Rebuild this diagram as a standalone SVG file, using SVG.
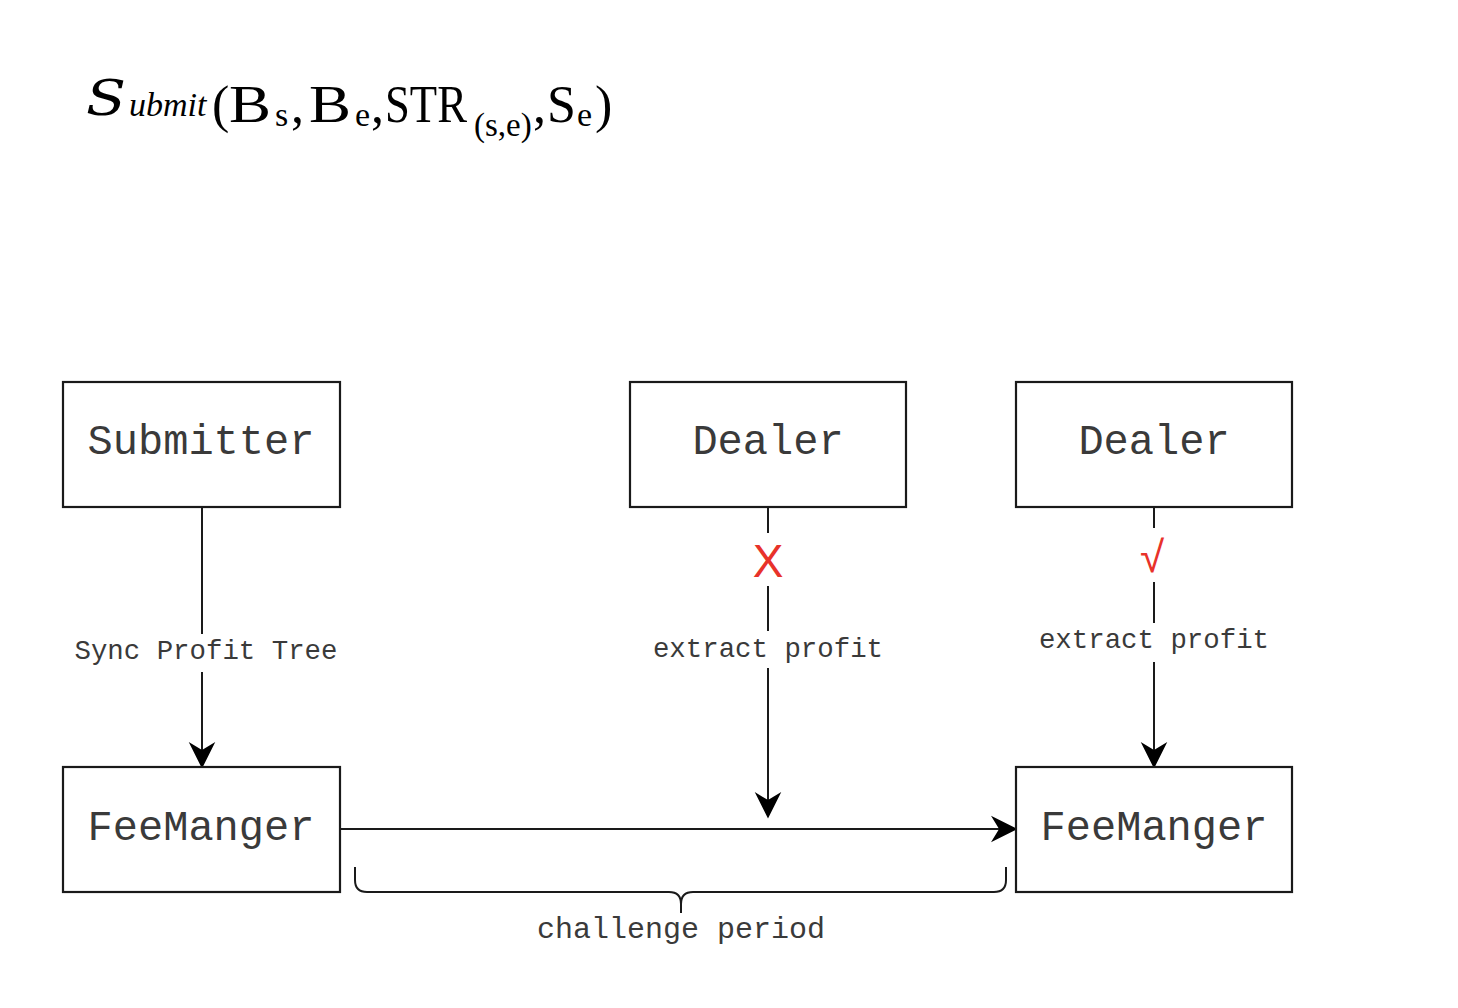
<svg xmlns="http://www.w3.org/2000/svg" width="1458" height="1008" viewBox="0 0 1458 1008">
<style>
.box{fill:#fff;stroke:#1a1a1a;stroke-width:2.2}
.lbl{font-family:"Liberation Mono","Courier New",monospace;fill:#3a3a3a;text-anchor:middle}
.big{font-size:42px}
.small{font-size:27.4px}
.ln{stroke:#1a1a1a;stroke-width:2;fill:none}
.red{fill:#e8322a;font-family:"Liberation Sans",Arial,sans-serif;text-anchor:middle}
.math{font-family:"Liberation Serif","Times New Roman",serif;fill:#000}
</style>
<defs>
<marker id="arr" markerUnits="userSpaceOnUse" markerWidth="30" markerHeight="30" viewBox="-24 -13 26 26" refX="-10" refY="0" orient="auto">
<path d="M0,0 L-23,-11.5 L-16,0 L-23,11.5 Z" fill="#000"/>
</marker>
</defs>
<rect width="1458" height="1008" fill="#fff"/>

<g id="title" class="math">
<text x="86" y="115" font-style="italic" font-family="'DejaVu Serif',serif" font-size="48" textLength="40" lengthAdjust="spacingAndGlyphs">S</text>
<text x="129" y="116" font-style="italic" font-size="34">ubmit</text>
<text x="212" y="122" font-size="52">(</text>
<text x="229" y="122" font-size="52" textLength="42" lengthAdjust="spacingAndGlyphs">B</text>
<text x="275" y="126" font-size="34">s</text>
<text x="291" y="122" font-size="52">,</text>
<text x="309" y="122" font-size="52" textLength="42" lengthAdjust="spacingAndGlyphs">B</text>
<text x="355" y="126" font-size="34">e</text>
<text x="371" y="122" font-size="52">,</text>
<text x="385" y="122" font-size="52" textLength="82" lengthAdjust="spacingAndGlyphs">STR</text>
<text x="474" y="136" font-size="33">(s,e)</text>
<text x="533" y="122" font-size="52">,</text>
<text x="547" y="122" font-size="52">S</text>
<text x="577" y="126" font-size="34">e</text>
<text x="595" y="122" font-size="52">)</text>
</g>

<g id="connectors">
<line class="ln" x1="202" y1="507" x2="202" y2="634"/>
<line class="ln" x1="202" y1="672" x2="202" y2="757" marker-end="url(#arr)"/>
<text class="lbl small" x="206" y="659">Sync Profit Tree</text>

<line class="ln" x1="768" y1="507" x2="768" y2="533"/>
<line class="ln" x1="768" y1="586" x2="768" y2="631"/>
<line class="ln" x1="768" y1="668" x2="768" y2="807" marker-end="url(#arr)"/>
<text class="red" x="768" y="577" font-size="46">X</text>
<text class="lbl small" x="768" y="657">extract profit</text>

<line class="ln" x1="1154" y1="507" x2="1154" y2="528"/>
<line class="ln" x1="1154" y1="582" x2="1154" y2="623"/>
<line class="ln" x1="1154" y1="662" x2="1154" y2="757" marker-end="url(#arr)"/>
<text class="red" x="1152" y="572" font-size="44">√</text>
<text class="lbl small" x="1154" y="648">extract profit</text>

<line class="ln" x1="340" y1="829" x2="1006" y2="829" marker-end="url(#arr)"/>

<path class="ln" d="M355,867 L355,880 Q355,892 367,892 L669,892 Q681,892 681,904 L681,913 M681,904 Q681,892 693,892 L994,892 Q1006,892 1006,880 L1006,867"/>
<text class="lbl" x="681" y="938" font-size="30">challenge period</text>
</g>

<g id="submitter">
<rect class="box" x="63" y="382" width="277" height="125"/>
<text class="lbl big" x="201" y="454">Submitter</text>
</g>
<g id="dealer1">
<rect class="box" x="630" y="382" width="276" height="125"/>
<text class="lbl big" x="768" y="454">Dealer</text>
</g>
<g id="dealer2">
<rect class="box" x="1016" y="382" width="276" height="125"/>
<text class="lbl big" x="1154" y="454">Dealer</text>
</g>
<g id="feemanager1">
<rect class="box" x="63" y="767" width="277" height="125"/>
<text class="lbl big" x="201" y="840">FeeManger</text>
</g>
<g id="feemanager2">
<rect class="box" x="1016" y="767" width="276" height="125"/>
<text class="lbl big" x="1154" y="840">FeeManger</text>
</g>
</svg>
